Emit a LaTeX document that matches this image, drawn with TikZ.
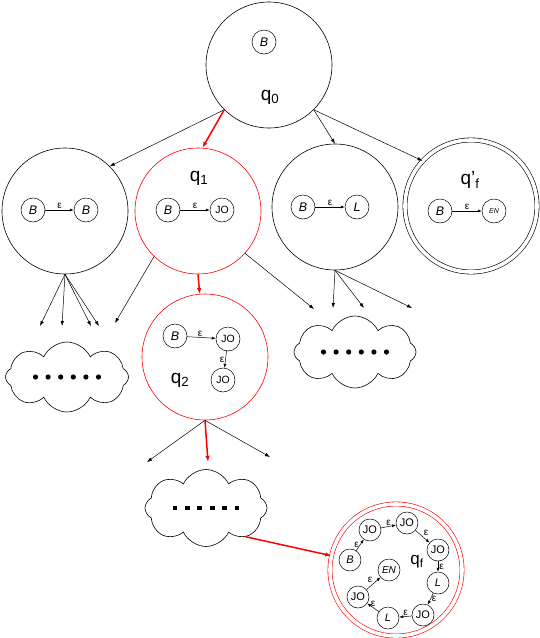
\documentclass[tikz,border=0pt]{standalone}
\usepackage{fontspec}
\setmainfont{Liberation Sans}
\usetikzlibrary{arrows.meta,shapes.symbols}
\tikzset{
  bigstate/.style={circle,draw,line width=0.6pt,minimum size=126pt,inner sep=0pt},
  redstate/.style={bigstate,draw=red},
  endstate/.style={circle,draw,line width=0.6pt,double,double distance=3.6pt,minimum size=132pt,inner sep=0pt},
  st/.style={circle,draw,line width=0.5pt,minimum size=24pt,inner sep=0pt,font=\fontsize{12.5}{12.5}\selectfont},
  sst/.style={st,minimum size=22pt,font=\fontsize{11}{11}\selectfont},
  eps/.style={font=\fontsize{10}{10}\selectfont,inner sep=1pt},
  qlabel/.style={font=\fontsize{19}{19}\selectfont,inner sep=0pt},
  blob/.style={cloud,draw,line width=0.6pt,cloud puffs=8,cloud puff arc=130,aspect=1.7,inner sep=0pt},
  link/.style={-{Latex[length=5pt,width=3.5pt]},line width=0.5pt},
  redlink/.style={-{Latex[length=6pt,width=4.5pt]},red,line width=1.5pt},
  ilink/.style={-{Latex[length=4pt,width=3pt]},line width=0.5pt}
}

\begin{document}
\begin{tikzpicture}[x=1pt,y=-1pt]
		%%%%% START %%%%%
		\useasboundingbox (0,0) rectangle (540,638);
		
		% top state
		\node[bigstate] (q0) at (269,65) {};
		\node[st] (q0b) at (264,42) {\textit{B}};
		\node[qlabel] (q0l) at (270,97) {q\textsubscript{0}};
		
		% second row
		\node[bigstate] (s1) at (65,211) {};
		\node[st] (s1a) at (33,210) {\textit{B}};
		\node[st] (s1b) at (86,210) {\textit{B}};
		\draw[ilink] (s1a) -- node[above,eps] {ε} (s1b);
		
		\node[redstate] (q1) at (198,211) {};
		\node[qlabel] (q1l) at (199,178) {q\textsubscript{1}};
		\node[st] (q1a) at (168,210) {\textit{B}};
		\node[st,font=\fontsize{10.5}{10.5}\selectfont] (q1b) at (222,210) {JO};
		\draw[ilink] (q1a) -- node[above,eps] {ε} (q1b);
		
		\node[bigstate] (s3) at (335,207) {};
		\node[st] (s3a) at (303,207) {\textit{B}};
		\node[st] (s3b) at (357,207) {\textit{L}};
		\draw[ilink] (s3a) -- node[above,eps] {ε} (s3b);
		
		\node[endstate] (qf1) at (471,206) {};
		\node[qlabel] (qf1l) at (470,180) {q\textquoteright\textsubscript{f}};
		\node[st] (qf1a) at (440,211) {\textit{B}};
		\node[st,font=\fontsize{7}{7}\selectfont\itshape] (qf1b) at (494,211) {EN};
		\draw[ilink] (qf1a) -- node[above,eps] {ε} (qf1b);
		
		\draw[link] (q0.-135) -- (s1.45);
		\draw[redlink] (q0.-135) -- (q1.86);
		\draw[link] (q0.-45) -- (s3.north);
		\draw[link] (q0.-45) -- (qf1.137);
		
		% fan out
		\coordinate (f1) at (40,326);
		\coordinate (f2) at (62,326);
		\coordinate (f3) at (91,326);
		\coordinate (f4) at (99,326);
		\coordinate (f5) at (115,323);
		\coordinate (f6) at (314,309);
		\coordinate (f7) at (333,308);
		\coordinate (f8) at (364,308);
		\coordinate (f9) at (412,308);
		\foreach \t in {f1,f2,f3,f4}
			\draw[link] (s1.south) -- (\t);
		\draw[link] (q1.-134) -- (f5);
		\draw[link] (q1.-42) -- (f6);
		\foreach \t in {f7,f8,f9}
			\draw[link] (s3.south) -- (\t);
		
		% q2
		\node[redstate] (q2) at (205,357) {};
		\draw[redlink] (q1.south) -- (q2);
		\node[st] (q2a) at (175,336) {\textit{B}};
		\node[st,font=\fontsize{10.5}{10.5}\selectfont] (q2b) at (228,339) {JO};
		\node[st,font=\fontsize{10.5}{10.5}\selectfont] (q2c) at (223,380) {JO};
		\node[qlabel] (q2l) at (180,380) {q\textsubscript{2}};
		\draw[ilink] (q2a) -- node[above,eps,pos=0.45] {ε} (q2b);
		\draw[ilink] (q2b) -- node[left,eps] {ε} (q2c);
		
		% clouds
		\node[blob,minimum width=123pt,minimum height=70pt] (c1) at (67,377) {};
		\node[blob,minimum width=122pt,minimum height=72pt] (c2) at (355,352) {};
		\node[blob,minimum width=122pt,minimum height=77pt] (c3) at (206,508) {};
		\foreach \i in {0,...,5} {
			\fill ([xshift={(\i-2.5)*12.6pt}]c1.center) circle (2.6);
			\fill ([xshift={(\i-2.5)*12.6pt}]c2.center) circle (2.6);
			\fill ([xshift={(\i-2.5)*12.4pt}]c3.center) +(-2.4,-2.4) rectangle +(2.4,2.4);
		}
		
		\coordinate (g1) at (147,462);
		\coordinate (g2) at (208,462);
		\coordinate (g3) at (270,457);
		\draw[link] (q2.south) -- (g1);
		\draw[redlink] (q2.south) -- (g2);
		\draw[link] (q2.south) -- (g3);
		
		% final state
		\node[endstate,draw=red] (qf) at (396,570) {};
		\node[qlabel,font=\fontsize{17}{17}\selectfont] (qfl) at (417,562) {q\textsubscript{f}};
		\node[sst] (n1) at (350,560) {\textit{B}};
		\node[sst] (n2) at (370,530) {JO};
		\node[sst] (n3) at (407,523) {JO};
		\node[sst] (n4) at (438,550) {JO};
		\node[sst] (n5) at (438,583) {\textit{L}};
		\node[sst] (n6) at (423,615) {JO};
		\node[sst] (n7) at (388,618) {\textit{L}};
		\node[sst] (n8) at (358,597) {JO};
		\node[sst,font=\fontsize{10}{10}\selectfont\itshape] (n9) at (389,570) {EN};
		\draw[ilink] (n1) -- node[left,eps] {ε} (n2);
		\draw[ilink] (n2) -- node[above,eps] {ε} (n3);
		\draw[ilink] (n3) -- node[above right,eps] {ε} (n4);
		\draw[ilink] (n4) -- node[right,eps] {ε} (n5);
		\draw[ilink] (n5) -- node[right,eps] {ε} (n6);
		\draw[ilink] (n6) -- node[above,eps] {ε} (n7);
		\draw[ilink] (n7) -- node[above,eps] {ε} (n8);
		\draw[ilink] (n8) -- node[above left,eps] {ε} (n9);
		
		\draw[redlink] (c3.-36) -- (qf);
		
		%%%%% END %%%%%
\end{tikzpicture}
\end{document}
